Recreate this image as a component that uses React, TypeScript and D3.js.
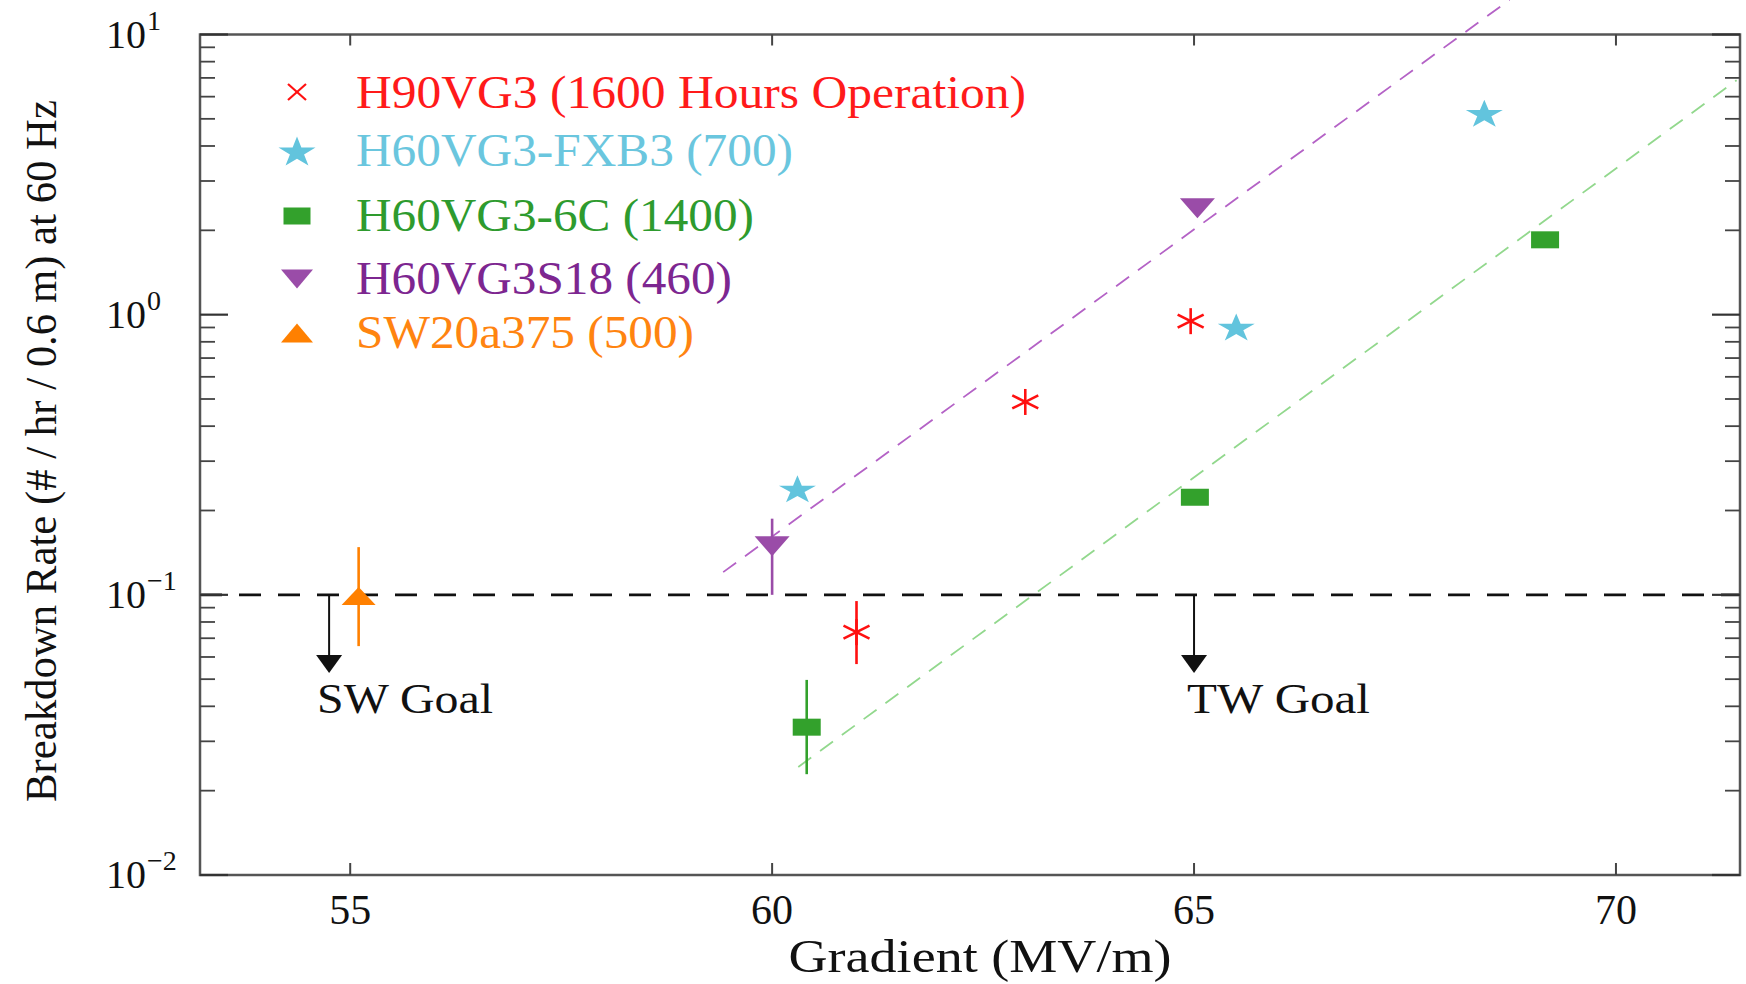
import * as d3 from "d3";

const W = 1746;
const H = 984;
const frame = { left: 200, right: 1740, top: 34.5, bottom: 875 };

// axis domains / ticks
const xDomain = [53.22, 71.47];
const yDomain = [0.01, 10];
const xTicks = [55, 60, 65, 70];
const yDecades = [-2, -1, 0, 1];
const minorMultipliers = [2, 3, 4, 5, 6, 7, 8, 9];

// data: gradient (MV/m), breakdown rate, optional error bar lo/hi
const h90vg3 = [
  { g: 61.0, r: 0.0736, lo: 0.0566, hi: 0.095 },
  { g: 63.0, r: 0.488 },
  { g: 64.96, r: 0.948 },
];
const fxb3 = [
  { g: 60.3, r: 0.239 },
  { g: 65.5, r: 0.904 },
  { g: 68.44, r: 5.24 },
];
const sixC = [
  { g: 60.41, r: 0.0337, lo: 0.0229, hi: 0.0497 },
  { g: 65.01, r: 0.223 },
  { g: 69.16, r: 1.85 },
];
const s18 = [
  { g: 60.0, r: 0.149, lo: 0.1, hi: 0.187 },
  { g: 65.04, r: 2.4 },
];
const sw20 = [{ g: 55.1, r: 0.099, lo: 0.0656, hi: 0.148 }];

// dashed fit lines
const s18Fit = [
  { g: 59.42, r: 0.1205 },
  { g: 68.74, r: 13.3 },
];
const sixCFit = [
  { g: 60.31, r: 0.0243 },
  { g: 71.43, r: 6.87 },
];

const goalRate = 0.1;
const goals = [
  { label: "SW Goal", g: 54.75, tip: 0.0526, tx: 317, len: 176 },
  { label: "TW Goal", g: 65.0, tip: 0.0526, tx: 1187, len: 183 },
];

const legendItems = [
  { label: "H90VG3 (1600 Hours Operation)", kind: "x", color: "#ff1010", text: "#ff1a1a", len: 670 },
  { label: "H60VG3-FXB3 (700)", kind: "star", color: "#62c4dd", text: "#6ac6de", len: 437 },
  { label: "H60VG3-6C (1400)", kind: "square", color: "#33a12c", text: "#2e9b2e", len: 398 },
  { label: "H60VG3S18 (460)", kind: "down", color: "#9a4ca8", text: "#7d2690", len: 376 },
  { label: "SW20a375 (500)", kind: "up", color: "#ff8000", text: "#ff8410", len: 338 },
];
const legendMarkY = [92, 151, 216, 279, 333];
const legendTextY = [108, 166, 231, 294, 348];

const serif = "Liberation Serif, Times New Roman, DejaVu Serif, serif";

const starPts = d3.range(10).map((i) => {
  const a = -Math.PI / 2 + (i * Math.PI) / 5;
  const r = i % 2 === 0 ? 1 : 0.382;
  return [(r * Math.cos(a)) / 0.951, (r * Math.sin(a) + 0.0955) / 0.9045];
});

const Marker = ({ kind, cx, cy, w, h, color }) => {
  const hw = w / 2;
  const hh = h / 2;
  if (kind === "square") {
    return <rect x={cx - hw} y={cy - hh} width={w} height={h} fill={color} />;
  }
  if (kind === "up") {
    return <path d={`M${cx},${cy - hh}L${cx + hw},${cy + hh}L${cx - hw},${cy + hh}Z`} fill={color} />;
  }
  if (kind === "down") {
    return <path d={`M${cx - hw},${cy - hh}L${cx + hw},${cy - hh}L${cx},${cy + hh}Z`} fill={color} />;
  }
  if (kind === "star") {
    const d = d3.line()(starPts.map(([px, py]) => [cx + px * hw, cy + py * hh])) + "Z";
    return <path d={d} fill={color} />;
  }
  if (kind === "x") {
    return (
      <g stroke={color} strokeWidth={2.2}>
        <line x1={cx - hw} y1={cy - hh} x2={cx + hw} y2={cy + hh} />
        <line x1={cx - hw} y1={cy + hh} x2={cx + hw} y2={cy - hh} />
      </g>
    );
  }
  // asterisk
  const dy = w * 0.25;
  return (
    <g stroke={color} strokeWidth={2.6}>
      <line x1={cx} y1={cy - hh} x2={cx} y2={cy + hh} />
      <line x1={cx - hw} y1={cy - dy} x2={cx + hw} y2={cy + dy} />
      <line x1={cx - hw} y1={cy + dy} x2={cx + hw} y2={cy - dy} />
    </g>
  );
};

const App = () => {
  const x = d3.scaleLinear().domain(xDomain).range([frame.left, frame.right]);
  const y = d3.scaleLog().domain(yDomain).range([frame.bottom, frame.top]);
  const line = d3
    .line()
    .x((d) => x(d.g))
    .y((d) => y(d.r));

  const minorVals = yDecades.slice(0, 3).flatMap((e) => minorMultipliers.map((m) => m * Math.pow(10, e)));

  const series = [
    { data: h90vg3, kind: "ast", color: "#ff1010", w: 26, h: 26 },
    { data: fxb3, kind: "star", color: "#62c4dd", w: 37, h: 27 },
    { data: sixC, kind: "square", color: "#33a12c", w: 28, h: 17 },
    { data: s18, kind: "down", color: "#9a4ca8", w: 35, h: 20 },
    { data: sw20, kind: "up", color: "#ff8000", w: 34, h: 18 },
  ];

  return (
    <svg
      width={W}
      height={H}
      style={{ position: "absolute", left: 0, top: 0, background: "white" }}
      fontFamily={serif}
    >
      <rect width={W} height={H} fill="white" />

      {/* fit lines */}
      <path d={line(s18Fit)} stroke="#b462c6" strokeWidth={1.8} strokeDasharray="16 11" fill="none" />
      <path d={line(sixCFit)} stroke="#92d88d" strokeWidth={1.8} strokeDasharray="16 11" fill="none" />

      {/* goal line */}
      <line
        x1={frame.left}
        x2={frame.right}
        y1={y(goalRate)}
        y2={y(goalRate)}
        stroke="#111"
        strokeWidth={2.8}
        strokeDasharray="22 17"
      />

      {/* goal arrows */}
      {goals.map((gl) => {
        const gx = x(gl.g);
        const tip = y(gl.tip);
        return (
          <g key={gl.label}>
            <line x1={gx} x2={gx} y1={y(goalRate)} y2={tip - 14} stroke="#111" strokeWidth={2} />
            <path d={`M${gx - 13},${tip - 18}L${gx + 13},${tip - 18}L${gx},${tip}Z`} fill="#111" />
            <text
              x={gl.tx}
              y={713}
              fontSize={42}
              fill="#111"
              textLength={gl.len}
              lengthAdjust="spacingAndGlyphs"
            >
              {gl.label}
            </text>
          </g>
        );
      })}

      {/* error bars */}
      {series.map((s, si) =>
        s.data
          .filter((d) => d.lo !== undefined)
          .map((d, i) => (
            <line
              key={`e${si}-${i}`}
              x1={x(d.g)}
              x2={x(d.g)}
              y1={y(d.lo)}
              y2={y(d.hi)}
              stroke={s.color}
              strokeWidth={2.6}
            />
          ))
      )}

      {/* markers */}
      {series.map((s, si) =>
        s.data.map((d, i) => (
          <Marker key={`m${si}-${i}`} kind={s.kind} cx={x(d.g)} cy={y(d.r)} w={s.w} h={s.h} color={s.color} />
        ))
      )}

      {/* frame */}
      <rect
        x={frame.left}
        y={frame.top}
        width={frame.right - frame.left}
        height={frame.bottom - frame.top}
        fill="none"
        stroke="#555"
        strokeWidth={2.5}
      />

      {/* x ticks */}
      {xTicks.map((t) => (
        <g key={`xt${t}`} stroke="#444" strokeWidth={2}>
          <line x1={x(t)} x2={x(t)} y1={frame.bottom} y2={frame.bottom - 12} />
          <line x1={x(t)} x2={x(t)} y1={frame.top} y2={frame.top + 11} />
        </g>
      ))}
      {xTicks.map((t) => (
        <text key={`xl${t}`} x={x(t)} y={924} fontSize={42} textAnchor="middle" fill="#111">
          {t}
        </text>
      ))}

      {/* y ticks */}
      {yDecades.map((e) => (
        <g key={`yt${e}`} stroke="#333" strokeWidth={2.2}>
          <line x1={frame.left} x2={frame.left + 28} y1={y(Math.pow(10, e))} y2={y(Math.pow(10, e))} />
          <line x1={frame.right} x2={frame.right - 28} y1={y(Math.pow(10, e))} y2={y(Math.pow(10, e))} />
        </g>
      ))}
      {minorVals.map((v, i) => (
        <g key={`ym${i}`} stroke="#444" strokeWidth={1.8}>
          <line x1={frame.left} x2={frame.left + 15} y1={y(v)} y2={y(v)} />
          <line x1={frame.right} x2={frame.right - 15} y1={y(v)} y2={y(v)} />
        </g>
      ))}
      {yDecades.map((e) => {
        const ty = y(Math.pow(10, e));
        return (
          <g key={`yl${e}`} fill="#111">
            <text x={106} y={ty + 13} fontSize={40}>
              10
            </text>
            <text x={147} y={ty - 5} fontSize={28}>
              {e < 0 ? `\u2212${-e}` : `${e}`}
            </text>
          </g>
        );
      })}

      {/* axis titles */}
      <text
        x={980}
        y={972}
        fontSize={46}
        textAnchor="middle"
        fill="#111"
        textLength={383}
        lengthAdjust="spacingAndGlyphs"
      >
        Gradient (MV/m)
      </text>
      <text
        transform={`translate(56,451) rotate(-90)`}
        fontSize={45}
        textAnchor="middle"
        fill="#111"
        textLength={702}
        lengthAdjust="spacingAndGlyphs"
      >
        Breakdown Rate (# / hr / 0.6 m) at 60 Hz
      </text>

      {/* legend */}
      {legendItems.map((it, i) => (
        <g key={it.label}>
          <Marker
            kind={it.kind}
            cx={297}
            cy={legendMarkY[i]}
            w={it.kind === "x" ? 18 : it.kind === "star" ? 37 : it.kind === "square" ? 27 : 32}
            h={it.kind === "x" ? 16 : it.kind === "star" ? 29 : it.kind === "square" ? 17 : 19}
            color={it.color}
          />
          <text
            x={356}
            y={legendTextY[i]}
            fontSize={46}
            fill={it.text}
            textLength={it.len}
            lengthAdjust="spacingAndGlyphs"
          >
            {it.label}
          </text>
        </g>
      ))}
    </svg>
  );
};

export default App;
